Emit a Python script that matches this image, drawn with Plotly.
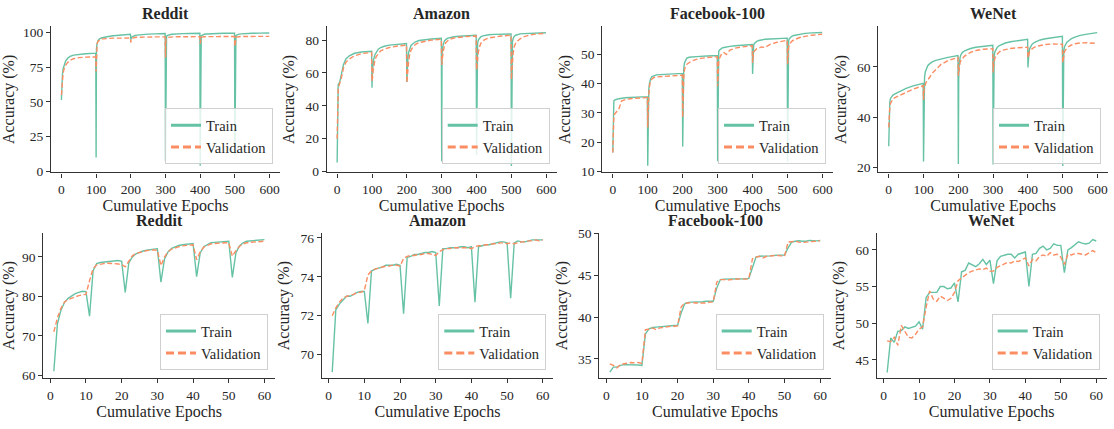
import plotly.graph_objects as go

# ---------------- data ----------------
TOP_EPOCHS = [0, 1, 2, 3, 5, 8, 12, 18, 25, 35, 50, 70, 99,
              100, 101, 102, 103, 105, 108, 112, 118, 125, 135, 150, 170, 199,
              200, 201, 202, 203, 205, 208, 212, 218, 225, 235, 250, 270, 299,
              300, 301, 302, 303, 305, 308, 312, 318, 325, 335, 350, 370, 399,
              400, 401, 402, 403, 405, 408, 412, 418, 425, 435, 450, 470, 499,
              500, 501, 502, 503, 505, 508, 512, 518, 525, 535, 550, 570, 599]

reddit_top_train = [51.5, 60, 66, 70, 74, 77, 79.5, 81.5, 82.8, 83.8, 84.4, 84.8, 85.2,
                    10, 88, 91, 92.5, 94, 95, 95.8, 96.3, 96.8, 97.2, 97.7, 98.2, 98.8,
                    95, 96, 96.5, 96.8, 97.2, 97.6, 97.9, 98.2, 98.4, 98.7, 98.9, 99.1, 99.3,
                    7.5, 96, 97, 97.4, 97.8, 98.2, 98.5, 98.8, 99, 99.2, 99.3, 99.4, 99.5,
                    4, 96.5, 97.3, 97.7, 98.1, 98.5, 98.8, 99, 99.2, 99.3, 99.4, 99.5, 99.6,
                    12, 96.5, 97.3, 97.7, 98.2, 98.6, 98.9, 99.1, 99.3, 99.4, 99.5, 99.6, 99.7]
reddit_top_val = [55, 60, 64, 67, 71, 74, 76.5, 78.5, 80, 81.2, 82, 82.3, 82.5,
                  72, 86, 90, 92, 93.5, 94.5, 95, 95.5, 95.7, 95.8, 96, 96, 96.1,
                  93, 94.5, 95.2, 95.6, 96, 96.3, 96.5, 96.6, 96.7, 96.8, 96.8, 96.9, 96.9,
                  82, 94, 95.5, 96, 96.4, 96.6, 96.8, 96.9, 97, 97, 97, 97.1, 97.1,
                  92, 95.5, 96.2, 96.5, 96.8, 97, 97, 97.1, 97.1, 97.2, 97.2, 97.2, 97.2,
                  90, 95, 96, 96.5, 96.8, 97, 97.1, 97.2, 97.2, 97.3, 97.3, 97.3, 97.3]

amazon_top_train = [5.5, 30, 50, 53, 53.5, 55, 59, 65, 68.5, 70.5, 72, 72.8, 73.2,
                    51, 59, 63, 65.5, 68.5, 71, 72.8, 74.5, 75.5, 76.3, 77, 77.5, 78,
                    54.5, 61, 66, 69, 72.5, 75, 76.8, 78, 79, 79.8, 80.3, 80.7, 81.1,
                    6.3, 70, 74, 76, 78, 79.5, 80.5, 81.2, 81.7, 82.1, 82.4, 82.7, 83,
                    10, 72, 76, 78, 80, 81.2, 82, 82.6, 83, 83.3, 83.5, 83.7, 83.8,
                    3.4, 73, 77, 79, 81, 82.3, 83, 83.5, 83.8, 84, 84.2, 84.3, 84.5]
amazon_top_val = [20, 40, 48, 50, 52, 54, 57, 63, 66.5, 68.5, 70.5, 71.8, 72.5,
                  55, 56, 58, 61, 64, 67.5, 70, 72, 73.5, 74.5, 75.5, 76.3, 77,
                  54, 57, 60, 63, 67, 71, 74, 76, 77.5, 78.5, 79.3, 80, 80.5,
                  65, 66, 69, 71, 74, 76.5, 78.5, 79.8, 80.7, 81.3, 81.8, 82.2, 82.5,
                  62, 63, 66, 69, 72.5, 75.5, 78, 79.5, 80.5, 81.3, 82, 82.5, 83,
                  56, 60, 63, 67, 72, 76, 78, 79.5, 80.8, 82, 83, 83.7, 84.2]

facebook_top_train = [16.5, 30, 33.5, 34, 34.3, 34.5, 34.6, 34.8, 35, 35.1, 35.2, 35.3, 35.5,
                      12, 30, 35, 38, 40, 41.5, 42.3, 42.7, 42.9, 43, 43.1, 43.2, 43.4,
                      18.5, 36, 42, 45, 47, 48, 48.6, 48.9, 49, 49.1, 49.2, 49.3, 49.5,
                      13.5, 48, 50, 50.8, 51.3, 51.7, 52, 52.2, 52.4, 52.6, 52.8, 53, 53.2,
                      43.2, 51, 52.3, 53, 53.6, 54, 54.3, 54.6, 54.8, 55, 55.1, 55.2, 55.4,
                      13.5, 51, 53.5, 54.5, 55.2, 55.6, 56, 56.3, 56.5, 56.8, 57, 57.2, 57.3]
facebook_top_val = [16.5, 22, 27, 28.5, 29.5, 30, 30.5, 31.5, 34, 34.5, 34.8, 35, 35.2,
                    25, 31, 34, 36, 39, 40.8, 41.5, 42, 42.2, 42.3, 42.4, 42.6, 42.8,
                    28.5, 35, 39, 42, 44.5, 46, 46.5, 47, 47.6, 48, 48.5, 48.8, 49.1,
                    39, 44, 46.5, 47.5, 48.5, 49.5, 50.2, 50.5, 49.8, 51.3, 52, 52.4, 52.8,
                    47, 49, 50, 50.5, 51, 51.5, 51.8, 52, 52.4, 52.2, 53.3, 54, 54.7,
                    46.5, 50, 51.5, 52.5, 53.2, 53.8, 54.3, 54.8, 55.2, 55.6, 56, 56.4, 56.7]

wenet_top_train = [28.5, 40, 44, 46, 47.5, 48.3, 48.8, 49.3, 49.8, 50.5, 51.5, 52.5, 53.5,
                   22.5, 50, 54, 56, 58, 59.5, 60.5, 61.3, 62, 62.6, 63.2, 63.8, 64.5,
                   21.5, 55, 60, 62, 63.8, 65, 65.8, 66.4, 66.9, 67.3, 67.8, 68.2, 68.6,
                   21.3, 60, 63, 64.5, 66, 67, 67.8, 68.5, 69, 69.5, 70, 70.5, 71,
                   59.8, 63.5, 65, 66, 67.3, 68.3, 69, 69.7, 70.2, 70.7, 71.2, 71.7, 72.2,
                   20.7, 62, 65, 66.5, 68, 69, 69.8, 70.5, 71.2, 71.8, 72.5, 73, 73.6]
wenet_top_val = [36, 40, 42.5, 44, 45.5, 46.5, 47.3, 47.8, 48.3, 49, 50, 51.2, 52.5,
                 47, 49.5, 51, 52, 53, 54, 55, 56, 57.5, 59, 61, 62.5, 63.8,
                 56.5, 58, 59.5, 60.5, 61.8, 62.8, 63.5, 64.3, 65, 65.8, 66.5, 67, 67.2,
                 57.8, 60, 61.5, 62.5, 63.5, 64.5, 65.3, 66, 66.6, 67, 67.3, 67.6, 67.8,
                 63.6, 64.5, 65, 65.5, 66.2, 66.8, 67.3, 67.8, 68.2, 68.6, 68.9, 69.1, 69,
                 61.7, 63, 64, 65, 66, 66.8, 67.5, 68.2, 68.7, 69.2, 69.5, 69.6, 69.3]

BOTTOM_EPOCHS = [1, 2, 3, 4, 5, 6, 7, 8, 9, 10, 11, 12, 13, 14, 15, 16, 17, 18, 19, 20,
                 21, 22, 23, 24, 25, 26, 27, 28, 29, 30, 31, 32, 33, 34, 35, 36, 37, 38, 39, 40,
                 41, 42, 43, 44, 45, 46, 47, 48, 49, 50, 51, 52, 53, 54, 55, 56, 57, 58, 59, 60]

reddit_bot_train = [61, 73, 76.5, 78.5, 79.5, 80.2, 80.7, 81, 81.3, 81.2,
                    75, 86.5, 88.3, 88.6, 88.7, 88.7, 88.8, 88.9, 89.1, 88.9,
                    81, 88.5, 90, 90.8, 91.2, 91.5, 91.7, 91.9, 92, 92.1,
                    83.6, 89.5, 91.3, 92.2, 92.6, 92.9, 93.1, 93.2, 93.3, 93.4,
                    85, 91, 92.6, 93.2, 93.6, 93.7, 93.8, 93.8, 93.9, 94,
                    84.8, 91, 92.8, 93.6, 94, 94.1, 94.2, 94.3, 94.4, 94.4]
reddit_bot_val = [71, 74.5, 77, 78.6, 79.2, 79.6, 80, 80.2, 80.4, 80.5,
                  84, 87, 88, 88.2, 88.3, 88.4, 88.4, 88.3, 88.2, 88.1,
                  87.5, 89, 90.3, 90.9, 91.2, 91.4, 91.6, 91.7, 91.8, 91.7,
                  87.8, 90, 91.3, 92, 92.4, 92.6, 92.8, 92.9, 93, 93.1,
                  89.3, 91.3, 92.5, 93, 93.3, 93.4, 93.5, 93.5, 93.6, 93.6,
                  90.2, 91.6, 92.7, 93.3, 93.6, 93.7, 93.8, 93.9, 94, 94]

amazon_bot_train = [69.1, 72.3, 72.6, 72.8, 73.0, 73.0, 73.1, 73.2, 73.25, 73.25,
                    71.6, 74.3, 74.4, 74.45, 74.5, 74.6, 74.6, 74.6, 74.65, 74.6,
                    72.1, 75.0, 75.05, 75.15, 75.15, 75.2, 75.25, 75.25, 75.3, 75.25,
                    72.5, 75.45, 75.45, 75.5, 75.5, 75.5, 75.55, 75.55, 75.5, 75.55,
                    72.7, 75.55, 75.6, 75.65, 75.65, 75.7, 75.75, 75.8, 75.8, 75.75,
                    72.9, 75.75, 75.85, 75.8, 75.8, 75.85, 75.9, 75.9, 75.9, 75.9]
amazon_bot_val = [72.0, 72.4, 72.7, 72.9, 73.0, 73.05, 73.1, 73.2, 73.2, 73.3,
                  74.1, 74.3, 74.4, 74.45, 74.5, 74.55, 74.55, 74.6, 74.6, 74.55,
                  74.95, 75.05, 75.1, 75.1, 75.15, 75.15, 75.2, 75.2, 75.15, 75.1,
                  75.3, 75.4, 75.45, 75.45, 75.5, 75.5, 75.5, 75.5, 75.5, 75.45,
                  75.55, 75.6, 75.6, 75.65, 75.65, 75.7, 75.7, 75.75, 75.75, 75.7,
                  75.75, 75.7, 75.75, 75.8, 75.8, 75.85, 75.85, 75.9, 75.85, 75.9]

facebook_bot_train = [33.4, 34.0, 34.0, 34.2, 34.3, 34.3, 34.3, 34.3, 34.25, 34.2,
                      38.0, 38.6, 38.75, 38.8, 38.85, 38.9, 38.95, 39.0, 39.0, 39.0,
                      40.5, 41.6, 41.75, 41.8, 41.8, 41.85, 41.85, 41.9, 41.9, 41.9,
                      43.5, 44.5, 44.55, 44.55, 44.55, 44.6, 44.6, 44.6, 44.6, 44.65,
                      46.0, 47.2, 47.3, 47.3, 47.3, 47.35, 47.4, 47.4, 47.45, 47.45,
                      48.3, 49.0, 49.1, 49.15, 49.1, 49.1, 49.2, 49.15, 49.15, 49.2]
facebook_bot_val = [34.4, 34.2, 33.9, 34.3, 34.4, 34.5, 34.55, 34.5, 34.55, 34.45,
                    38.5, 38.55, 38.7, 38.5, 38.7, 38.75, 38.85, 38.9, 38.9, 38.95,
                    41.2, 41.7, 41.7, 41.75, 41.7, 41.7, 41.75, 41.7, 41.8, 41.8,
                    44.2, 44.5, 44.5, 44.45, 44.5, 44.55, 44.55, 44.6, 44.55, 44.6,
                    47.0, 47.2, 47.3, 47.1, 47.3, 47.35, 47.4, 47.4, 47.35, 47.3,
                    49.0, 49.05, 49.1, 49.0, 48.95, 49.0, 49.05, 49.1, 49.1, 49.15]

wenet_bot_train = [43.3, 48.0, 47.4, 48.9, 49.0, 49.5, 49.3, 49.4, 49.6, 50.2,
                   49.2, 53.5, 54.2, 54.2, 54.2, 55.0, 55.0, 54.7, 54.8, 55.5,
                   52.9, 57.0, 57.2, 58.2, 57.9, 57.7, 58.1, 58.7, 58.0, 58.6,
                   55.4, 58.5, 59.1, 59.3, 59.4, 59.4, 58.9, 59.4, 59.6, 59.7,
                   55.0, 59.4, 59.5, 60.2, 60.5, 60.0, 60.2, 60.8, 60.6, 60.6,
                   56.9, 60.0, 60.3, 60.7, 61.1, 60.9, 60.8, 60.9, 61.4, 61.2]
wenet_bot_val = [47.6, 47.5, 48.1, 47.0, 49.7, 48.8, 48.1, 48.0, 48.5, 49.2,
                 49.5, 52.2, 54.4, 53.3, 53.0, 53.7, 53.4, 53.1, 53.4, 54.2,
                 55.8, 56.2, 56.6, 56.9, 57.1, 57.2, 57.4, 57.3, 57.5, 57.1,
                 57.1, 57.6, 57.8, 58.0, 58.3, 58.2, 58.5, 58.4, 58.7, 58.9,
                 57.8, 58.7, 58.5, 59.1, 59.3, 59.1, 59.6, 59.3, 59.4, 59.0,
                 58.0, 59.4, 59.3, 59.5, 59.5, 59.4, 59.3, 59.6, 59.9, 59.6]

TITLES = ["Reddit", "Amazon", "Facebook-100", "WeNet"]
top_series = [(reddit_top_train, reddit_top_val), (amazon_top_train, amazon_top_val),
              (facebook_top_train, facebook_top_val), (wenet_top_train, wenet_top_val)]
bot_series = [(reddit_bot_train, reddit_bot_val), (amazon_bot_train, amazon_bot_val),
              (facebook_bot_train, facebook_bot_val), (wenet_bot_train, wenet_bot_val)]

top_yranges = [[-0.8, 104.5], [-0.6, 88.4], [9.7, 59.4], [18.1, 76.1]]
top_yticks = [[0, 25, 50, 75, 100], [0, 20, 40, 60, 80], [10, 20, 30, 40, 50], [20, 40, 60]]
bot_yranges = [[59.2, 96.1], [68.78, 76.26], [32.65, 50.1], [42.5, 62.3]]
bot_yticks = [[60, 70, 80, 90], [70, 72, 74, 76], [35, 40, 45, 50], [45, 50, 55, 60]]

# ---------------- layout geometry ----------------
W, H = 1114, 429
top_x_px = [(51, 280), (326.7, 556.7), (602.3, 833), (878.3, 1108)]
bot_x_px = [(43.3, 275), (321.7, 553.3), (599.3, 830.7), (876.7, 1106.7)]
top_y_px = (21, 171.7)
bot_y_px = (234, 384)

GREEN = "#66c2a5"
ORANGE = "#fc8d62"
AXC = "#333333"
FONT = "Liberation Serif, Times New Roman, serif"

fig = go.Figure()
layout = dict(
    width=W, height=H, margin=dict(l=0, r=0, t=0, b=0),
    paper_bgcolor="white", plot_bgcolor="white",
    font=dict(family=FONT, color="#262626"),
    showlegend=True,
)
annotations = []

def add_panel(idx, xs, train, val, xdom_px, ydom_px, xr, xticks, yr, yticks, title):
    n = idx + 1
    xa = "x" if n == 1 else f"x{n}"
    ya = "y" if n == 1 else f"y{n}"
    lg = "legend" if n == 1 else f"legend{n}"
    fig.add_trace(go.Scatter(x=xs, y=train, mode="lines", xaxis=xa, yaxis=ya,
                             line=dict(color=GREEN, width=1.4), showlegend=False, hoverinfo="skip"))
    fig.add_trace(go.Scatter(x=xs, y=val, mode="lines", xaxis=xa, yaxis=ya,
                             line=dict(color=ORANGE, width=1.4, dash="5px,2.5px"),
                             showlegend=False, hoverinfo="skip"))
    # legend handles
    fig.add_trace(go.Scatter(x=[None], y=[None], mode="lines", xaxis=xa, yaxis=ya, name="Train",
                             line=dict(color=GREEN, width=3), legend=lg, showlegend=True))
    fig.add_trace(go.Scatter(x=[None], y=[None], mode="lines", xaxis=xa, yaxis=ya, name="Validation",
                             line=dict(color=ORANGE, width=3, dash="8px,4px"), legend=lg, showlegend=True))
    x0, x1 = xdom_px
    ytop, ybot = ydom_px
    xd = [x0 / W, x1 / W]
    yd = [1 - ybot / H, 1 - ytop / H]
    axcommon = dict(showline=True, linecolor=AXC, linewidth=1.2, ticks="outside",
                    ticklen=4, tickwidth=1.1, tickcolor=AXC, showgrid=False, zeroline=False,
                    tickfont=dict(size=13.5, family=FONT, color="#262626"))
    layout["xaxis" if n == 1 else f"xaxis{n}"] = dict(
        domain=xd, anchor=ya, range=xr, tickmode="array", tickvals=xticks,
        title=dict(text="Cumulative Epochs", font=dict(size=16, family=FONT, color="#262626"), standoff=2),
        **axcommon)
    layout["yaxis" if n == 1 else f"yaxis{n}"] = dict(
        domain=yd, anchor=xa, range=yr, tickmode="array", tickvals=yticks,
        title=dict(text="Accuracy (%)", font=dict(size=16, family=FONT, color="#262626"), standoff=6),
        **axcommon)
    layout[lg] = dict(
        x=(x1 - 7) / W, y=1 - (ybot - 8.5) / H, xanchor="right", yanchor="bottom",
        bgcolor="rgba(255,255,255,0.8)", bordercolor="#d0d0d0", borderwidth=1,
        font=dict(size=14.5, family=FONT, color="#262626"), tracegroupgap=0,
        itemwidth=30,
    )
    annotations.append(dict(
        text=f"<b>{title}</b>", x=(x0 + x1) / 2 / W, y=1 - (ytop - 2) / H,
        xref="paper", yref="paper", xanchor="center", yanchor="bottom", showarrow=False,
        font=dict(size=16, family=FONT, color="#262626")))

for i in range(4):
    add_panel(i, TOP_EPOCHS, top_series[i][0], top_series[i][1], top_x_px[i], top_y_px,
              [-30, 630], [0, 100, 200, 300, 400, 500, 600], top_yranges[i], top_yticks[i], TITLES[i])
for i in range(4):
    add_panel(i + 4, BOTTOM_EPOCHS, bot_series[i][0], bot_series[i][1], bot_x_px[i], bot_y_px,
              [-1.95, 62.95], [0, 10, 20, 30, 40, 50, 60], bot_yranges[i], bot_yticks[i], TITLES[i])

layout["annotations"] = annotations
fig.update_layout(**layout)
fig.write_html("out.html")
